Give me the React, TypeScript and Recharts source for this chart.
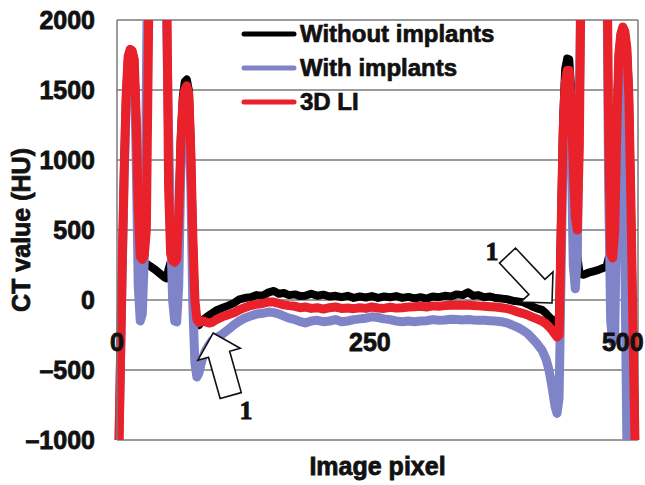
import {
  LineChart,
  Line,
  XAxis,
  YAxis,
  CartesianGrid,
  Legend,
  ReferenceLine,
  ReferenceDot,
  Label,
} from "recharts";

// image pixel position along the profile
const pixel = [
  2, 5, 7, 9, 11, 13, 15, 17, 19, 21,
  23, 25, 27, 29, 31, 33, 38, 43, 47, 49,
  51, 53, 55, 57, 59, 61, 63, 65, 67, 69,
  71, 73, 75, 77, 79, 81, 84, 87, 91, 94,
  98, 104, 110, 116, 121, 126, 132, 138, 144, 150,
  155, 160, 165, 170, 176, 181, 186, 192, 198, 204,
  210, 216, 222, 228, 234, 240, 246, 252, 258, 264,
  270, 276, 282, 288, 294, 300, 306, 312, 318, 324,
  330, 336, 342, 347, 352, 357, 363, 369, 374, 380,
  386, 391, 396, 401, 406, 410, 415, 420, 424, 427,
  430, 433, 435, 437, 439, 441, 443, 445, 447, 449,
  451, 453, 455, 457, 459, 461, 466, 471, 476, 481,
  484, 486, 488, 490, 492, 494, 496, 498, 500, 502,
  504, 506, 508, 510, 512,
];

// CT value (HU)
const withoutImplants = [
  -1000, 200, 900, 1450, 1740, 1790, 1780, 1720, 1300, 650,
  320, 290, 270, 260, 250, 240, 215, 185, 162, 155,
  220, 270, 285, 280, 300, 600, 1150, 1450, 1560, 1575,
  1500, 1100, 450, -20, -150, -180, -150, -130, -110, -95,
  -75, -57, -40, -20, 5, 14, 20, 35, 30, 55,
  65, 45, 50, 35, 40, 28, 30, 45, 30, 38,
  25, 30, 20, 30, 15, 25, 18, 28, 15, 25,
  20, 28, 15, 22, 12, 20, 10, 25, 20, 30,
  25, 40, 35, 55, 30, 35, 20, 25, 14, 10,
  5, -5, -10, -15, -30, -45, -60, -70, -95, -120,
  -140, -165, -180, -100, 600, 1300, 1650, 1725, 1720, 1500,
  1000, 600, 320, 200, 185, 180, 195, 205, 215, 230,
  240, 300, 310, 320, 600, 1300, 1750, 1900, 1940, 1900,
  1800, 1500, 700, -200, -1000,
];

const withImplants = [
  -1000, 150, 850, 1400, 1700, 1760, 1750, 1680, 1000, 100,
  -150, -100, 300, 1500, 3000, 3200, 3200, 3200, 3000, 2000,
  1200, 500, 0, -150, -157, 100, 900, 1300, 1450, 1480,
  1400, 800, -50, -450, -550, -520, -430, -370, -320, -290,
  -270, -245, -210, -175, -150, -130, -115, -100, -95, -86,
  -90, -100, -115, -130, -140, -155, -164, -150, -145, -155,
  -150, -140, -155, -150, -140, -135, -130, -120, -125, -135,
  -140, -150, -155, -150, -155, -150, -148, -140, -145, -143,
  -138, -140, -142, -140, -143, -145, -145, -148, -150, -155,
  -165, -180, -195, -215, -240, -271, -310, -357, -420, -500,
  -620, -760, -810, -700, 200, 1100, 1450, 1560, 1540, 1100,
  250, 80, 300, 1400, 2600, 3200, 3200, 3200, 3200, 3200,
  2600, 800, -150, -300, -250, 700, 1600, 1800, 1500, 300,
  -1000, null, null, null, null,
];

const li3d = [
  -1000, 200, 900, 1450, 1740, 1790, 1780, 1720, 1300, 650,
  310, 290, 320, 500, 1800, 3200, 3200, 3200, 3000, 2400,
  800, 330, 280, 270, 290, 600, 1100, 1400, 1500, 1530,
  1470, 1050, 450, 0, -140, -160, -150, -155, -165, -160,
  -140, -120, -105, -90, -70, -55, -40, -30, -25, -14,
  -15, -25, -35, -40, -45, -55, -50, -60, -55, -65,
  -55, -50, -60, -57, -62, -55, -60, -50, -57, -60,
  -52, -58, -55, -50, -48, -45, -50, -42, -45, -40,
  -38, -35, -38, -36, -40, -42, -45, -48, -50, -55,
  -62, -72, -85, -95, -107, -120, -135, -150, -170, -190,
  -215, -245, -264, -250, 500, 1200, 1550, 1640, 1640, 1400,
  950, 600, 500, 1100, 2600, 3200, 3200, 3200, 3200, 3200,
  2800, 1200, 330, 300, 500, 1200, 1750, 1900, 1950, 1920,
  1800, 1450, 700, -200, -1000,
];

const xTicks = [0, 250, 500];
const yTicks = [-1000, -500, 0, 500, 1000, 1500, 2000];

const series = [
  { key: "without", name: "Without implants", color: "#000000", width: 8 },
  { key: "with", name: "With implants", color: "#7f83c8", width: 9 },
  { key: "li3d", name: "3D LI", color: "#e8212a", width: 9 },
];

const FONT = '"Liberation Sans", Arial, Helvetica, sans-serif';
const GRID = "#7a7a7a";
const INK = "#111";

// heavier look than plain bold, like the blurry scan
const heavy = { stroke: INK, strokeWidth: 0.8, paintOrder: "stroke" } as const;

const chartData = pixel.map((x, i) => ({
  x,
  without: withoutImplants[i],
  with: withImplants[i],
  li3d: li3d[i],
}));

function XTick({ x, y, payload }: any) {
  // labels sit next to the 0 HU line, like an Excel axis crossing at zero
  return (
    <text
      x={x}
      y={y - 98}
      textAnchor="middle"
      dominantBaseline="central"
      fontFamily={FONT}
      fontWeight="bold"
      fontSize={25}
      fill={INK}
      {...heavy}
    >
      {payload.value}
    </text>
  );
}

function YTick({ x, y, payload }: any) {
  return (
    <text
      x={x}
      y={y}
      dy="0.36em"
      textAnchor="end"
      fontFamily={FONT}
      fontWeight="bold"
      fontSize={25}
      fill={INK}
      {...heavy}
    >
      {String(payload.value).replace("-", "\u2013")}
    </text>
  );
}

function arrow(dx: number, dy: number, labelDx: number, labelDy: number) {
  return (props: any) => {
    const { cx, cy } = props;
    const len = Math.hypot(dx, dy);
    const ux = dx / len;
    const uy = dy / len;
    const px = -uy;
    const py = ux;
    const headLen = 22;
    const headHalf = 22;
    const shaftHalf = 11;
    const shaftLen = 43;
    const bx = cx - headLen * ux;
    const by = cy - headLen * uy;
    const pts = [
      [cx, cy],
      [bx + headHalf * px, by + headHalf * py],
      [bx + shaftHalf * px, by + shaftHalf * py],
      [bx + shaftHalf * px - shaftLen * ux, by + shaftHalf * py - shaftLen * uy],
      [bx - shaftHalf * px - shaftLen * ux, by - shaftHalf * py - shaftLen * uy],
      [bx - shaftHalf * px, by - shaftHalf * py],
      [bx - headHalf * px, by - headHalf * py],
    ]
      .map((p) => p.join(","))
      .join(" ");
    return (
      <g>
        <polygon points={pts} fill="#fff" stroke={INK} strokeWidth={1.6} strokeLinejoin="miter" />
        <text
          x={cx + labelDx}
          y={cy + labelDy}
          textAnchor="middle"
          dominantBaseline="central"
          fontFamily='"Liberation Serif", "Times New Roman", serif'
          fontWeight="bold"
          fontSize={26}
          fill={INK}
          {...heavy}
        >
          1
        </text>
      </g>
    );
  };
}

function LegendBox() {
  return (
    <div>
      {series.map((s) => (
        <div key={s.key} style={{ display: "flex", alignItems: "center", height: 34 }}>
          <svg width={56} height={8}>
            <line x1={3} y1={4} x2={53} y2={4} stroke={s.color} strokeWidth={5} strokeLinecap="round" />
          </svg>
          <span
            style={{
              marginLeft: 3,
              fontFamily: FONT,
              fontWeight: "bold",
              fontSize: 24,
              color: INK,
              lineHeight: "34px",
              whiteSpace: "nowrap",
              WebkitTextStroke: "0.7px #111",
            }}
          >
            {s.name}
          </span>
        </div>
      ))}
    </div>
  );
}

export default function App() {
  return (
    <div style={{ position: "absolute", left: 0, top: 0, background: "#fff" }}>
      <LineChart
        width={645}
        height={485}
        data={chartData}
        margin={{ top: 20, right: 7, bottom: 0, left: 0 }}
      >
        <CartesianGrid vertical={false} stroke={GRID} strokeWidth={1.5} />
        <XAxis
          dataKey="x"
          type="number"
          domain={[0, 515]}
          ticks={xTicks}
          height={45}
          axisLine={false}
          tickLine={false}
          tickSize={0}
          tickMargin={0}
          tick={<XTick />}
        >
          <Label
            content={(props: any) => {
              const vb = props.viewBox;
              return (
                <text
                  x={vb.x + vb.width / 2}
                  y={vb.y + 35}
                  textAnchor="middle"
                  fontFamily={FONT}
                  fontWeight="bold"
                  fontSize={25}
                  fill={INK}
                  {...heavy}
                >
                  Image pixel
                </text>
              );
            }}
          />
        </XAxis>
        <YAxis
          type="number"
          domain={[-1000, 2000]}
          ticks={yTicks}
          allowDataOverflow
          width={117}
          axisLine={{ stroke: GRID, strokeWidth: 1.5 }}
          tickLine={false}
          tickSize={0}
          tickMargin={22}
          tick={<YTick />}
        >
          <Label
            content={(props: any) => {
              const vb = props.viewBox;
              const cx = vb.x + 21;
              const cy = vb.y + vb.height / 2;
              return (
                <text
                  x={cx}
                  y={cy}
                  textAnchor="middle"
                  dominantBaseline="central"
                  transform={`rotate(-90, ${cx}, ${cy})`}
                  fontFamily={FONT}
                  fontWeight="bold"
                  fontSize={25}
                  fill={INK}
                  {...heavy}
                >
                  CT value (HU)
                </text>
              );
            }}
          />
        </YAxis>
        <ReferenceLine x={515} stroke={GRID} strokeWidth={1.5} />
        <Legend
          layout="vertical"
          align="center"
          verticalAlign="middle"
          wrapperStyle={{ left: 241, top: 17, width: 300 }}
          content={() => <LegendBox />}
        />
        {series.map((s) => (
          <Line
            key={s.key}
            type="linear"
            dataKey={s.key}
            name={s.name}
            stroke={s.color}
            strokeWidth={s.width}
            strokeLinejoin="round"
            strokeLinecap="round"
            dot={false}
            activeDot={false}
            connectNulls={false}
            isAnimationActive={false}
          />
        ))}
        <ReferenceDot x={95} y={-236} r={0} shape={arrow(-0.27, -0.96, 33, 77)} />
        <ReferenceDot x={430} y={-21} r={0} shape={arrow(0.685, 0.729, -60, -51)} />
      </LineChart>
    </div>
  );
}
